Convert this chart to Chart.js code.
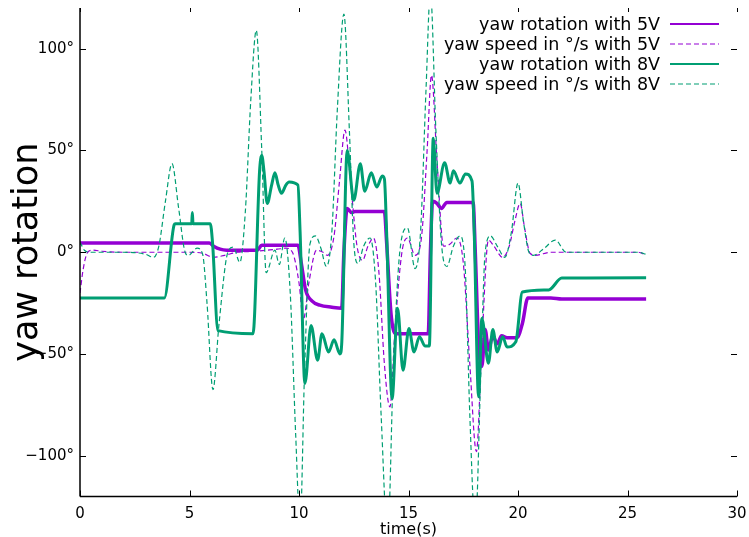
<!DOCTYPE html>
<html>
<head>
<meta charset="utf-8">
<script src="https://cdn.jsdelivr.net/npm/chart.js@4.4.0/dist/chart.umd.min.js"></script>
<style>
  html, body { margin: 0; padding: 0; background: #fff; }
  #wrap { width: 749px; height: 537px; position: relative; }
</style>
</head>
<body>
<div id="wrap"><canvas id="chart"></canvas></div>
<script>
// --- data: time (s) and yaw (deg, deg/s) ---
const rot5T = [0, 5.9, 6.1, 6.4, 6.7, 8.1, 8.3, 9.95, 10.1, 10.3, 10.6, 10.95, 11.5, 11.95, 12.05, 12.2, 12.4, 12.55, 13.9, 14.0, 14.2, 14.4, 15.9, 16.0, 16.1, 16.3, 16.5, 16.75, 17.95, 18.05, 18.2, 18.35, 18.5, 18.65, 18.85, 19.05, 19.25, 19.5, 19.95, 20.2, 20.45, 21.5, 22.0, 25.85];
const rot5V = [4.5, 4.5, 3, 1.5, 1, 1, 3.5, 3.5, -5, -18.5, -24, -26, -27, -27.5, 0, 21.5, 19.5, 20, 20, 5, -30, -40, -40, 0, 25, 24, 21.5, 24.5, 24.5, 0, -45, -56, -38, -48, -41, -45, -41, -42, -42, -35, -22.5, -22.5, -23, -23];

const spd5T = [0, 0.15, 0.35, 0.6, 1, 2, 3, 4, 5, 5.6, 6.1, 6.6, 7.2, 8, 8.5, 9, 9.4, 9.7, 10.0, 10.2, 10.45, 10.8, 11.1, 11.3, 11.6, 11.85, 12.1, 12.35, 12.65, 12.9, 13.15, 13.4, 13.65, 13.9, 14.15, 14.4, 14.7, 14.95, 15.3, 15.6, 15.85, 16.05, 16.3, 16.6, 16.9, 17.2, 17.5, 17.8, 18.1, 18.35, 18.65, 18.9, 19.3, 19.6, 19.85, 20.1, 20.3, 20.55, 20.8, 21.5, 25.5, 25.85];
const spd5V = [-20, -8, 0, 1, 0.5, 0, 0, 0, 0, -0.5, -2.5, -1.5, 0, 0.5, 1, 1.5, 2, 0, -15, -33, -15, 1, 0, -1.5, 8, 35, 60, 35, 3, -4, 3, 7, -10, -55, -76, -35, 0, 7, -1.5, 8, 50, 87, 45, 3, 4, 7, -5, -55, -98, -45, 6, 3, -2.5, 3, 15, 24, 12, -0.5, -1.5, 0, 0, -1.5];

const rot8T = [0, 3.85, 4.3, 4.35, 5.1, 5.13, 5.16, 5.95, 6.05, 6.3, 7.9, 8.2, 8.3, 8.4, 8.55, 8.75, 8.9, 9.05, 9.2, 9.4, 9.55, 9.95, 10.05, 10.27, 10.55, 10.85, 11.05, 11.35, 11.6, 11.87, 11.95, 12.2, 12.5, 12.8, 13.0, 13.3, 13.55, 13.8, 13.9, 14.0, 14.25, 14.5, 14.75, 15.02, 15.25, 15.5, 15.75, 15.95, 16.13, 16.3, 16.65, 16.9, 17.05, 17.35, 17.6, 17.9, 18.0, 18.2, 18.35, 18.65, 18.85, 19.05, 19.3, 19.5, 19.9, 20.2, 21.4, 22.0, 25.85];
const rot8V = [-22.5, -22.5, 13.5, 14, 14, 19.5, 14, 14, 5, -38.5, -40, 40, 47.5, 40, 24, 33, 39, 33, 29, 33, 34.5, 33, 10, -64.5, -36, -53, -40, -49, -43, -50, -45, 50, 25.5, 43.5, 30, 39, 32, 37.5, 36, 10, -72, -27.5, -58, -37.5, -49, -41.5, -46, -46, 56, 29, 44, 34, 40, 34, 38.5, 35, 10, -71, -32.5, -54.5, -38, -49, -41.5, -46.5, -44, -19.5, -18.5, -12.7, -12.5];

const spd8T = [0, 0.2, 0.5, 1, 2, 3, 3.35, 3.6, 3.9, 4.2, 4.5, 4.8, 4.95, 5.35, 5.6, 5.8, 6.07, 6.35, 6.75, 7.0, 7.3, 7.55, 7.8, 8.05, 8.3, 8.5, 8.9, 9.1, 9.35, 9.6, 9.85, 10.05, 10.25, 10.5, 10.75, 11.0, 11.25, 11.5, 11.75, 12.05, 12.3, 12.5, 12.7, 12.95, 13.25, 13.5, 13.75, 14.05, 14.3, 14.6, 14.95, 15.3, 15.55, 15.8, 16.0, 16.25, 16.5, 16.75, 17.05, 17.35, 17.6, 17.8, 18.05, 18.3, 18.5, 18.75, 19.05, 19.4, 19.7, 20.0, 20.25, 20.5, 20.7, 21.2, 21.7, 22.2, 25.5, 25.85];
const spd8V = [5, 1, 0, 0, 0, -1, -2.5, 3, 25, 43.5, 22, 0, -1.5, 2, -1, -25, -67.5, -35, 0, 2.5, -5, 20, 75, 109, 50, -10, 1, -6, 7, -20, -90, -135, -60, 4, 8, 2, -7, 10, 70, 117, 60, 5, -5.5, 3, 7, -15, -80, -140, -60, 0, 12, -8, 10, 80, 128, 60, 5, -7, 3, 8, -10, -80, -135, -60, 0, 8, 3, -2.5, 10, 34, 15, 0, -1.5, 2, 6, 0, 0, -1];

const xTicks = [0, 5, 10, 15, 20, 25, 30];
const yTicks = [-100, -50, 0, 50, 100];
const labels = ['yaw rotation with 5V', 'yaw speed in °/s with 5V', 'yaw rotation with 8V', 'yaw speed in °/s with 8V'];

const PURPLE = '#9400d3';
const GREEN = '#009e73';
const FONT = 'DejaVu Sans';

function pts(ts, vs) {
    return ts.map((t, i) => ({ x: t, y: vs[i] }));
}

// inward ticks on all four sides, border only left + bottom, gnuplot-style key
const gnuplotFrame = {
    id: 'gnuplotFrame',
    afterDraw(chart) {
        const { ctx, chartArea: a, scales: { x, y } } = chart;
        const seg = (x1, y1, x2, y2) => {
            ctx.beginPath();
            ctx.moveTo(x1, y1);
            ctx.lineTo(x2, y2);
            ctx.stroke();
        };
        ctx.save();
        ctx.strokeStyle = '#000';
        ctx.lineWidth = 1;
        xTicks.forEach(v => {
            const px = Math.round(x.getPixelForValue(v)) + 0.5;
            seg(px, a.bottom, px, a.bottom - 6);
            seg(px, a.top, px, a.top + 4);
        });
        yTicks.forEach(v => {
            const py = Math.round(y.getPixelForValue(v)) + 0.5;
            seg(a.left, py, a.left + 6, py);
            seg(a.right, py, a.right - 6, py);
        });
        ctx.lineWidth = 1.5;
        seg(a.left, a.top, a.left, a.bottom);
        seg(a.left, a.bottom, a.right, a.bottom);

        // key
        ctx.font = '17.5px "' + FONT + '"';
        ctx.textAlign = 'right';
        ctx.textBaseline = 'middle';
        const rowY = [24, 44, 64, 84];
        chart.data.datasets.forEach((ds, i) => {
            ctx.fillStyle = '#000';
            ctx.fillText(labels[i], 660, rowY[i] + 1.5);
            ctx.strokeStyle = ds.borderColor;
            ctx.lineWidth = ds.borderDash.length ? 1.2 : 2;
            ctx.setLineDash(ds.borderDash);
            seg(670, rowY[i], 719, rowY[i]);
            ctx.setLineDash([]);
        });
        ctx.restore();
    }
};

new Chart(document.getElementById('chart'), {
    type: 'line',
    data: {
        datasets: [
            { label: labels[0], data: pts(rot5T, rot5V), borderColor: PURPLE, borderWidth: 3.5, borderDash: [], order: 4 },
            { label: labels[1], data: pts(spd5T, spd5V), borderColor: PURPLE, borderWidth: 1.2, borderDash: [5, 3], order: 3 },
            { label: labels[2], data: pts(rot8T, rot8V), borderColor: GREEN, borderWidth: 3, borderDash: [], order: 2 },
            { label: labels[3], data: pts(spd8T, spd8V), borderColor: GREEN, borderWidth: 1.2, borderDash: [5, 3], order: 1 }
        ]
    },
    options: {
        responsive: true,
        maintainAspectRatio: false,
        animation: false,
        parsing: false,
        elements: {
            point: { radius: 0 },
            line: { cubicInterpolationMode: 'monotone', fill: false }
        },
        layout: { padding: { top: 8, right: 12, bottom: 0, left: 0 } },
        plugins: {
            legend: { display: false },
            tooltip: { enabled: false }
        },
        scales: {
            x: {
                type: 'linear',
                min: 0,
                max: 30,
                grid: { display: false, drawTicks: false },
                border: { display: false },
                ticks: { stepSize: 5, padding: 9, color: '#000', font: { family: FONT, size: 15 } },
                title: { display: true, text: 'time(s)', color: '#000', padding: { top: 0, bottom: -2 }, font: { family: FONT, size: 16 } },
                afterFit: s => { s.height = 40.5; s.paddingLeft = 0; s.paddingRight = 0; }
            },
            y: {
                type: 'linear',
                min: -120,
                max: 120,
                grid: { display: false, drawTicks: false },
                border: { display: false },
                afterBuildTicks: s => { s.ticks = yTicks.map(v => ({ value: v })); },
                ticks: { padding: 6, color: '#000', font: { family: FONT, size: 15 }, callback: v => (v < 0 ? '\u2212' + (-v) : v) + '°' },
                title: { display: true, text: 'yaw rotation', color: '#000', padding: { top: 7, bottom: 0 }, font: { family: FONT, size: 35 } },
                afterFit: s => { s.width = 80; s.paddingTop = 0; s.paddingBottom = 0; }
            }
        }
    },
    plugins: [gnuplotFrame]
});
</script>
</body>
</html>
